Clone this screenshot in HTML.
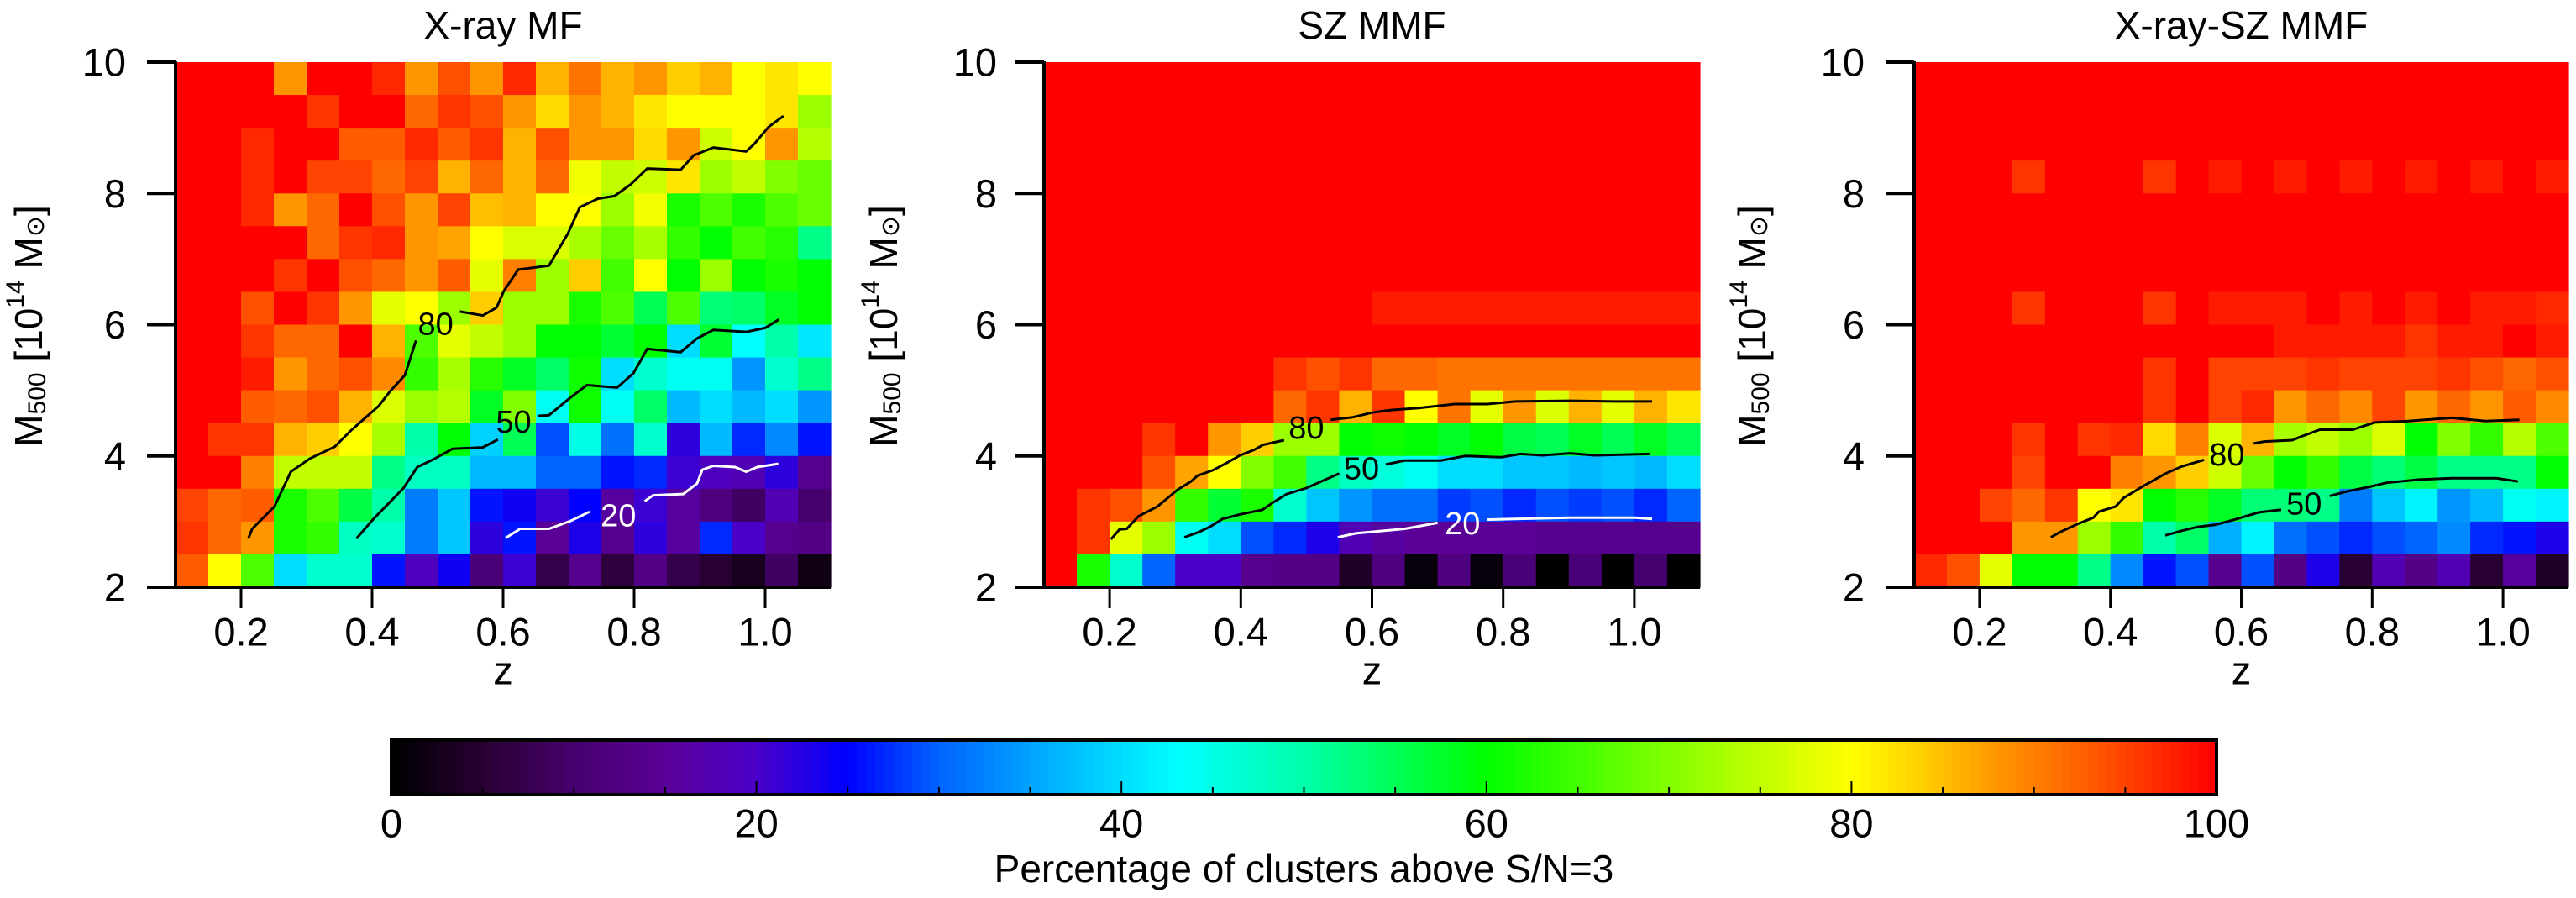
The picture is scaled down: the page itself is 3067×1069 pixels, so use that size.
<!DOCTYPE html>
<html><head><meta charset="utf-8">
<style>
html,body{margin:0;padding:0;background:#fff;}
svg{display:block;font-family:"Liberation Sans",Arial,sans-serif;}
</style></head>
<body>
<svg id="fig" width="3067" height="1069" viewBox="0 0 3067 1069" xmlns="http://www.w3.org/2000/svg"></svg>
<script>
// ---- data ----
const zCenters = [0.125,0.175,0.225,0.275,0.325,0.375,0.425,0.475,0.525,0.575,0.625,0.675,0.725,0.775,0.825,0.875,0.925,0.975,1.025,1.075];
const mCenters = [9.75,9.25,8.75,8.25,7.75,7.25,6.75,6.25,5.75,5.25,4.75,4.25,3.75,3.25,2.75,2.25];
const xTicks = [0.2,0.4,0.6,0.8,1.0];
const xTickLabels = ["0.2","0.4","0.6","0.8","1.0"];
const yTicks = [2,4,6,8,10];
const cbTicks = [0,20,40,60,80,100];

const xrayMF = [
[100,100,100,88,100,100,97,88,94,88,97,86,91,86,88,84,86,80,82,80],
[100,100,100,100,96,100,100,92,96,94,88,83,88,86,82,80,80,80,82,72],
[100,100,97,100,100,93,93,97,93,96,86,94,88,88,83,88,76,80,88,74],
[100,100,97,100,95,95,92,95,86,92,86,92,79,75,76,82,72,75,70,68],
[100,100,97,88,92,100,94,88,95,85,86,80,80,72,79,62,66,62,66,68],
[100,100,100,100,92,96,97,88,87,80,77,77,73,68,73,64,60,65,63,52],
[100,100,100,96,100,94,92,88,93,78,90,72,84,65,80,60,72,60,62,60],
[100,100,94,100,96,88,78,80,72,84,72,72,62,66,55,66,53,54,58,60],
[100,100,96,92,92,100,86,66,78,75,72,60,60,57,60,40,57,43,50,41],
[100,100,98,88,92,94,89,64,73,63,58,54,61,40,47,44,44,34,47,52],
[100,100,93,92,94,86,77,72,74,58,70,44,61,44,54,37,40,37,40,34],
[100,96,96,86,84,80,73,50,60,39,55,29,45,31,47,22,37,27,33,26],
[100,100,90,75,75,75,52,48,48,37,37,30,30,26,27,21,19,18,22,14],
[95,92,93,62,66,56,50,32,38,26,24,21,25,16,21,16,12,9,18,10],
[96,92,88,62,64,48,47,32,38,22,26,15,23,14,22,16,27,20,14,13],
[93,80,66,40,47,47,26,19,24,11,21,7,14,6,13,7,5,3,9,2]];

const szMMF = [
[100,100,100,100,100,100,100,100,100,100,100,100,100,100,100,100,100,100,100,100],
[100,100,100,100,100,100,100,100,100,100,100,100,100,100,100,100,100,100,100,100],
[100,100,100,100,100,100,100,100,100,100,100,100,100,100,100,100,100,100,100,100],
[100,100,100,100,100,100,100,100,100,100,100,100,100,100,100,100,100,100,100,100],
[100,100,100,100,100,100,100,100,100,100,100,100,100,100,100,100,100,100,100,100],
[100,100,100,100,100,100,100,100,100,100,100,100,100,100,100,100,100,100,100,100],
[100,100,100,100,100,100,100,100,100,100,100,100,100,100,100,100,100,100,100,100],
[100,100,100,100,100,100,100,100,100,100,98,98,98,98,98,98,98,98,98,98],
[100,100,100,100,100,100,100,100,100,100,100,100,100,100,100,100,100,100,100,100],
[100,100,100,100,100,100,100,96,94,96,92,92,91,91,91,91,91,91,91,91],
[100,100,100,100,100,100,100,92,96,86,96,80,91,78,88,77,86,78,86,82],
[100,100,100,96,100,88,84,72,72,60,61,60,58,60,56,55,58,55,58,55],
[100,100,100,94,87,80,70,65,52,48,46,44,40,40,38,38,37,38,37,40],
[100,96,94,88,64,57,62,47,38,34,31,31,28,29,27,29,28,29,27,30],
[100,96,78,72,44,40,29,27,23,18,16,15,15,15,15,14,14,14,14,14],
[100,62,47,30,20,20,14,13,13,4,12,1,12,1,11,0,11,0,10,0]];

const xraySzMMF = [
[100,100,100,100,100,100,100,100,100,100,100,100,100,100,100,100,100,100,100,100],
[100,100,100,100,100,100,100,100,100,100,100,100,100,100,100,100,100,100,100,100],
[100,100,100,100,100,100,100,100,100,100,100,100,100,100,100,100,100,100,100,100],
[100,100,100,96,100,100,100,96,100,98,100,98,100,98,100,98,100,98,100,98],
[100,100,100,100,100,100,100,100,100,100,100,100,100,100,100,100,100,100,100,100],
[100,100,100,100,100,100,100,100,100,100,100,100,100,100,100,100,100,100,100,100],
[100,100,100,100,100,100,100,100,100,100,100,100,100,100,100,100,100,100,100,100],
[100,100,100,96,100,100,100,96,100,98,98,98,100,98,100,98,100,98,98,97],
[100,100,100,100,100,100,100,100,100,100,100,98,98,98,98,96,98,98,100,98],
[100,100,100,100,100,100,100,96,100,95,95,95,96,95,95,95,96,94,92,94],
[100,100,100,100,100,100,100,96,100,95,97,88,92,89,95,88,92,88,93,89],
[100,100,100,96,100,96,97,83,90,77,86,73,75,72,77,60,70,64,74,66],
[100,100,100,95,100,100,90,88,84,76,68,60,64,56,53,56,52,52,52,60],
[100,100,95,92,96,80,82,60,63,58,53,53,52,32,38,42,34,37,44,42],
[100,100,100,88,88,72,64,50,54,36,42,31,29,27,29,30,33,27,26,23],
[97,94,78,60,60,52,33,26,29,14,29,13,23,5,18,13,18,5,16,4]];

// contour lines: [z, M] pairs, split around the label
const p1c80a = [[0.211,2.74],[0.217,2.89],[0.251,3.23],[0.276,3.76],[0.305,3.96],[0.343,4.14],[0.368,4.39],[0.41,4.76],[0.427,4.98],[0.45,5.23],[0.467,5.76]];
const p1c80b = [[0.534,6.2],[0.569,6.14],[0.59,6.26],[0.601,6.51],[0.623,6.84],[0.67,6.9],[0.699,7.39],[0.717,7.79],[0.745,7.92],[0.77,7.96],[0.795,8.14],[0.82,8.38],[0.871,8.36],[0.891,8.58],[0.921,8.7],[0.971,8.64],[0.984,8.76],[1.005,9.01],[1.028,9.18]];
const p1c80L = [0.497,6.0];
const p1c50a = [[0.376,2.74],[0.402,3.04],[0.448,3.51],[0.469,3.83],[0.494,3.95],[0.523,4.11],[0.569,4.13],[0.592,4.25]];
const p1c50b = [[0.653,4.61],[0.67,4.62],[0.703,4.89],[0.728,5.08],[0.774,5.04],[0.799,5.26],[0.82,5.63],[0.871,5.58],[0.896,5.79],[0.921,5.92],[0.971,5.89],[1.0,5.95],[1.021,6.08]];
const p1c50L = [0.616,4.51];
const p1c20a = [[0.604,2.75],[0.626,2.89],[0.67,2.89],[0.703,3.01],[0.732,3.15]];
const p1c20b = [[0.816,3.31],[0.829,3.4],[0.875,3.42],[0.896,3.58],[0.904,3.79],[0.921,3.85],[0.954,3.83],[0.971,3.76],[0.988,3.83],[1.02,3.88]];
const p1c20L = [0.776,3.08];

const p2c80a = [[0.202,2.73],[0.215,2.88],[0.226,2.89],[0.244,3.08],[0.273,3.23],[0.303,3.48],[0.324,3.61],[0.334,3.7],[0.357,3.78],[0.378,3.89],[0.399,4.01],[0.42,4.09],[0.434,4.17],[0.466,4.24]];
const p2c80b = [[0.537,4.55],[0.571,4.59],[0.6,4.66],[0.629,4.7],[0.671,4.73],[0.726,4.79],[0.776,4.79],[0.818,4.83],[0.902,4.84],[0.969,4.83],[1.027,4.83]];
const p2c80L = [0.5,4.42];
const p2c50a = [[0.314,2.76],[0.336,2.84],[0.353,2.92],[0.372,3.04],[0.399,3.11],[0.433,3.18],[0.449,3.29],[0.47,3.42],[0.5,3.51],[0.529,3.64],[0.55,3.73]];
const p2c50b = [[0.621,3.87],[0.65,3.93],[0.705,3.93],[0.742,4.0],[0.797,3.98],[0.826,4.03],[0.86,4.01],[0.902,4.04],[0.939,4.01],[1.023,4.03]];
const p2c50L = [0.584,3.8];
const p2c20a = [[0.548,2.76],[0.575,2.82],[0.65,2.89],[0.7,2.98]];
const p2c20b = [[0.776,3.03],[0.818,3.04],[0.902,3.06],[1.002,3.06],[1.027,3.04]];
const p2c20L = [0.738,2.96];

const p3c80a = [[0.309,2.76],[0.323,2.84],[0.349,2.96],[0.374,3.06],[0.382,3.15],[0.408,3.23],[0.42,3.36],[0.45,3.54],[0.484,3.73],[0.509,3.84],[0.543,3.94]];
const p3c80b = [[0.619,4.19],[0.635,4.22],[0.678,4.24],[0.69,4.29],[0.72,4.4],[0.77,4.4],[0.804,4.51],[0.855,4.53],[0.922,4.58],[0.973,4.53],[1.025,4.55]];
const p3c80L = [0.578,4.01];
const p3c50a = [[0.484,2.79],[0.509,2.86],[0.534,2.92],[0.56,2.95],[0.593,3.04],[0.627,3.14],[0.661,3.18]];
const p3c50b = [[0.735,3.39],[0.762,3.46],[0.796,3.53],[0.821,3.59],[0.872,3.64],[0.922,3.66],[0.99,3.66],[1.023,3.61]];
const p3c50L = [0.696,3.26];

// ---- helpers ----
const NS = "http://www.w3.org/2000/svg";
const svg = document.getElementById("fig");
function mk(tag, attrs, parent){
  const e = document.createElementNS(NS, tag);
  for (const k in attrs) e.setAttribute(k, attrs[k]);
  (parent||svg).appendChild(e);
  return e;
}
const stops = [
 [0,[0,0,0]],[5,[40,0,50]],[10,[70,0,110]],[15,[90,0,150]],[20,[75,0,200]],[25,[0,0,255]],
 [30,[0,100,255]],[36,[0,175,255]],[43,[0,255,255]],[50,[0,255,170]],[60,[0,255,0]],
 [70,[130,255,0]],[80,[255,255,0]],[84,[255,205,0]],[88,[255,150,0]],[94,[255,80,0]],[100,[255,0,0]]];
function cmap(v){
  v = Math.max(0, Math.min(100, v));
  for (let i=1;i<stops.length;i++){
    if (v <= stops[i][0]){
      const a=stops[i-1], b=stops[i], t=(v-a[0])/(b[0]-a[0]);
      const c=a[1].map((x,j)=>Math.round(x+(b[1][j]-x)*t));
      return "rgb("+c.join(",")+")";
    }
  }
  return "rgb(255,0,0)";
}

const panels = [
 {name:"xray-mf", title:"X-ray MF", data:xrayMF, left:209, right:989, titleX:68, ylabRight:150,
  contours:[[p1c80a,p1c80b,p1c80L,"80","#000"],[p1c50a,p1c50b,p1c50L,"50","#000"],[p1c20a,p1c20b,p1c20L,"20","#fff"]]},
 {name:"sz-mmf", title:"SZ MMF", data:szMMF, left:1243, right:2024, titleX:1086, ylabRight:1187,
  contours:[[p2c80a,p2c80b,p2c80L,"80","#000"],[p2c50a,p2c50b,p2c50L,"50","#000"],[p2c20a,p2c20b,p2c20L,"20","#fff"]]},
 {name:"xray-sz-mmf", title:"X-ray-SZ MMF", data:xraySzMMF, left:2279, right:3058, titleX:2120, ylabRight:2220,
  contours:[[p3c80a,p3c80b,p3c80L,"80","#000"],[p3c50a,p3c50b,p3c50L,"50","#000"]]}
];
const TOP=74, BOTTOM=699;

panels.forEach(p=>{
  const g = mk("g",{});
  
  
  const w = p.right - p.left, h = BOTTOM - TOP;
  const xs = z => p.left + (z-0.1)/1.0*w;
  const ys = m => BOTTOM - (m-2)/8*h;
  const cw = 0.05/1.0*w, ch = 0.5/8*h;
  p.data.forEach((row,ri)=>{
    row.forEach((v,ci)=>{
      const r = mk("rect",{x:(xs(zCenters[ci])-cw/2).toFixed(2), y:(ys(mCenters[ri])-ch/2).toFixed(2),
        width:(cw+0.6).toFixed(2), height:(ch+0.6).toFixed(2), fill:cmap(v)}, g);
      
      
    });
  });
  p.contours.forEach(c=>{
    [c[0],c[1]].forEach(seg=>{
      const pl = mk("polyline",{points:seg.map(q=>xs(q[0]).toFixed(1)+","+ys(q[1]).toFixed(1)).join(" "),
        fill:"none", stroke:c[4], "stroke-width":3}, g);
      
      
    });
    const t = mk("text",{x:xs(c[2][0]), y:ys(c[2][1]), "font-size":38, "text-anchor":"middle",
      "dominant-baseline":"central", fill:c[4]}, g);
    t.textContent = c[3];
    
    
  });
  const ax = mk("path",{d:`M${p.left},${TOP-1} V${BOTTOM} H${p.right}`, fill:"none", stroke:"#000", "stroke-width":4}, g);
  
  
  yTicks.forEach(v=>{
    const y = ys(v);
    const tk = mk("line",{x1:p.left-34, x2:p.left, y1:y, y2:y, stroke:"#000", "stroke-width":4}, g);
    
    
    const t = mk("text",{x:p.ylabRight, y:y, "font-size":47, "text-anchor":"end", "dominant-baseline":"central"}, g);
    t.textContent = String(v);
    
    
  });
  xTicks.forEach((v,i)=>{
    const x = xs(v);
    const tk = mk("line",{x1:x, x2:x, y1:BOTTOM, y2:BOTTOM+25, stroke:"#000", "stroke-width":3}, g);
    
    
    const t = mk("text",{x:x, y:752, "font-size":47, "text-anchor":"middle", "dominant-baseline":"central"}, g);
    t.textContent = xTickLabels[i];
    
    
  });
  const xt = mk("text",{x:(p.left+p.right)/2, y:798, "font-size":47, "text-anchor":"middle", "dominant-baseline":"central"}, g);
  xt.textContent = "z";
  
  
  const tt = mk("text",{x:(p.left+p.right)/2, y:30, "font-size":46, "text-anchor":"middle", "dominant-baseline":"central"}, g);
  tt.textContent = p.title;
  
  
  const yt = mk("text",{x:0, y:0, "font-size":46, "text-anchor":"middle", "dominant-baseline":"central",
    transform:`translate(${p.titleX - 34},388) rotate(-90)`}, g);
  yt.innerHTML = 'M<tspan font-size="30" dy="10">500</tspan><tspan dy="-10"> [10</tspan><tspan font-size="30" dy="-16">14</tspan><tspan dy="16"> M</tspan><tspan font-size="30" dy="8">⊙</tspan><tspan dy="-8">]</tspan>';
  
  
});

// colorbar
const CBL=466, CBR=2639, CBT=881, CBB=946;
const cb = mk("g",{});


const cbx = v => CBL + v/100*(CBR-CBL);
for (let i=0;i<200;i++){
  const v0=i/2, v1=(i+1)/2;
  const r = mk("rect",{x:cbx(v0).toFixed(2), y:CBT, width:(cbx(v1)-cbx(v0)+0.6).toFixed(2), height:CBB-CBT, fill:cmap((v0+v1)/2)}, cb);
  
  
}
for (let v=5; v<100; v+=5){
  const major = v%20===0;
  const l = mk("line",{x1:cbx(v), x2:cbx(v), y1:CBB, y2:CBB-(major?16:9), stroke:"#000","stroke-width":2}, cb);
  
  
}
const fr = mk("rect",{x:CBL, y:CBT, width:CBR-CBL, height:CBB-CBT, fill:"none", stroke:"#000", "stroke-width":4}, cb);


cbTicks.forEach(v=>{
  const t = mk("text",{x:cbx(v), y:980, "font-size":47, "text-anchor":"middle", "dominant-baseline":"central"}, cb);
  t.textContent = String(v);
  
  
});
const cbt = mk("text",{x:(CBL+CBR)/2, y:1034, "font-size":46, "text-anchor":"middle", "dominant-baseline":"central"}, cb);
cbt.textContent = "Percentage of clusters above S/N=3";


</script>
</body></html>
